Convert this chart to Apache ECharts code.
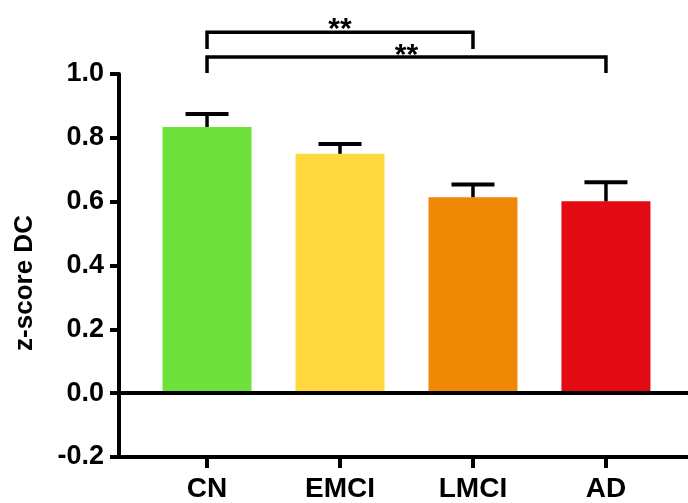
<!DOCTYPE html>
<html>
<head>
<meta charset="utf-8">
<script src="https://cdn.jsdelivr.net/npm/echarts@6/dist/echarts.min.js"></script>
<style>html,body{margin:0;padding:0;background:#fff;}#c{width:688px;height:503px;}</style>
</head>
<body>
<div id="c"></div>
<script>
// ---- data ----
const categories = ['CN', 'EMCI', 'LMCI', 'AD'];
const means = [0.834, 0.750, 0.614, 0.601];
const errTops = [0.875, 0.781, 0.654, 0.661];
const barColors = ['#6EE13C', '#FFD83D', '#EE8805', '#E30A13'];
const yTickLabels = ['-0.2', '0.0', '0.2', '0.4', '0.6', '0.8', '1.0'];
// significance brackets (category indices, heights in y units)
const bracketFrom = [0, 0];
const bracketTo = [2, 3];
const bracketY = [1.131, 1.053];
const bracketLegY = [1.078, 1.003];
const starText = ['**', '**'];
const starY = [1.140, 1.057];

const FONT = "'Liberation Sans', Arial, Helvetica, sans-serif";
const chart = echarts.init(document.getElementById('c'), null, {renderer: 'canvas'});
const idx = categories.map((c, i) => i);

const option = {
  animation: false,
  backgroundColor: '#ffffff',
  grid: {left: 119, right: 0, top: 74, bottom: 44, containLabel: false},
  graphic: [{
    type: 'text',
    x: 25, y: 283,
    rotation: Math.PI / 2,
    style: {
      text: 'z-score DC',
      font: "bold 26px " + FONT,
      fill: '#000',
      align: 'center',
      verticalAlign: 'middle'
    }
  }],
  xAxis: {
    type: 'value',
    min: -0.662,
    max: 3.617,
    splitLine: {show: false},
    axisLine: {show: true, onZero: false, lineStyle: {color: '#000', width: 4}},
    axisTick: {show: true, length: 11, lineStyle: {color: '#000', width: 4}, customValues: idx},
    axisLabel: {
      show: true,
      customValues: idx,
      formatter: v => categories[Math.round(v)],
      color: '#000',
      fontFamily: FONT,
      fontWeight: 'bold',
      fontSize: 28,
      margin: 18
    }
  },
  yAxis: {
    type: 'value',
    min: -0.2,
    max: 1.0,
    interval: 0.2,
    splitLine: {show: false},
    axisLine: {show: true, onZero: false, lineStyle: {color: '#000', width: 4}},
    axisTick: {show: true, length: 9, lineStyle: {color: '#000', width: 4}},
    axisLabel: {
      formatter: v => yTickLabels[Math.round((v + 0.2) / 0.2)],
      color: '#000',
      fontFamily: FONT,
      fontWeight: 'bold',
      fontSize: 27,
      margin: 15
    }
  },
  series: [
    {
      type: 'bar',
      barWidth: 89,
      data: idx.map(i => ({value: [i, means[i]], itemStyle: {color: barColors[i]}})),
      markLine: {
        silent: true,
        symbol: 'none',
        label: {show: false},
        lineStyle: {color: '#000', width: 4, type: 'solid'},
        data: [{yAxis: 0}]
      },
      z: 2
    },
    {
      type: 'custom',
      z: 3,
      data: idx.map(i => [i, means[i], errTops[i]]),
      renderItem: function (params, api) {
        const x = api.value(0);
        const base = api.coord([x, api.value(1)]);
        const top = api.coord([x, api.value(2)]);
        const hw = 21.5;
        return {
          type: 'group',
          children: [
            {type: 'line', shape: {x1: base[0], y1: base[1], x2: top[0], y2: top[1]},
             style: {stroke: '#000', lineWidth: 3.5}},
            {type: 'line', shape: {x1: top[0] - hw, y1: top[1], x2: top[0] + hw, y2: top[1]},
             style: {stroke: '#000', lineWidth: 4}}
          ]
        };
      }
    },
    {
      type: 'custom',
      clip: false,
      z: 4,
      data: bracketFrom.map((f, i) => [f, bracketTo[i], bracketY[i], bracketLegY[i], starY[i]]),
      renderItem: function (params, api) {
        const x1 = api.value(0), x2 = api.value(1);
        const yH = api.value(2), yL = api.value(3), yS = api.value(4);
        const pL1 = api.coord([x1, yL]);
        const pH1 = api.coord([x1, yH]);
        const pH2 = api.coord([x2, yH]);
        const pL2 = api.coord([x2, yL]);
        const pS = api.coord([(x1 + x2) / 2, yS]);
        return {
          type: 'group',
          children: [
            {type: 'polyline', shape: {points: [pL1, pH1, pH2, pL2]},
             style: {stroke: '#000', lineWidth: 3.5, fill: null, lineJoin: 'miter'}},
            {type: 'text', x: pS[0], y: pS[1],
             style: {text: starText[params.dataIndex], font: 'bold 30px ' + FONT,
                     fill: '#000', align: 'center', verticalAlign: 'middle'}}
          ]
        };
      }
    }
  ]
};
chart.setOption(option);
</script>
</body>
</html>
